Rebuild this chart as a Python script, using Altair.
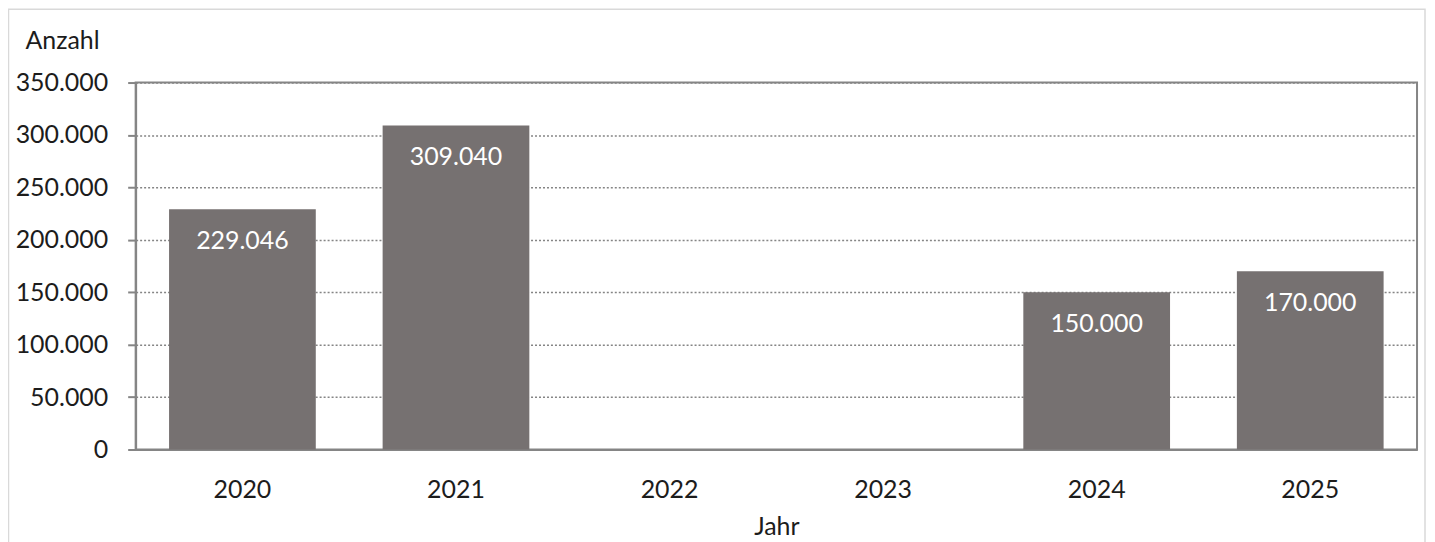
import altair as alt
import pandas as pd

years = ["2020", "2021", "2022", "2023", "2024", "2025"]
counts = [229046, 309040, None, None, 150000, 170000]
y_ticks = [0, 50000, 100000, 150000, 200000, 250000, 300000, 350000]

df = pd.DataFrame({"Jahr": years, "Anzahl": counts})

FONT = "Lato"
TEXT = "#1c1c1c"
GRAY = "#858585"
BAR = "#767171"

W, H = 1285, 368

x_enc = alt.X(
    "Jahr:N",
    sort=years,
    scale=alt.Scale(domain=years, paddingInner=0.313, paddingOuter=0.1565),
    axis=alt.Axis(
        title="Jahr",
        labelAngle=0,
        ticks=False,
        tickSize=0,
        labelPadding=48,
        labelBaseline="alphabetic",
        labelFont=FONT,
        labelFontSize=25,
        labelColor=TEXT,
        titleFont=FONT,
        titleFontSize=25,
        titleFontWeight="normal",
        titleColor=TEXT,
        titleBaseline="alphabetic",
        titleY=85,
        domainColor=GRAY,
        domainWidth=2,
        grid=False,
    ),
)

y_enc = alt.Y(
    "Anzahl:Q",
    scale=alt.Scale(domain=[0, 350000], nice=False),
    axis=alt.Axis(
        title="Anzahl",
        values=y_ticks,
        labelExpr="replace(format(datum.value, ','), ',', '.')",
        labelFont=FONT,
        labelFontSize=25,
        labelColor=TEXT,
        labelPadding=20,
        tickSize=8,
        tickColor=GRAY,
        tickWidth=2,
        domainColor=GRAY,
        domainWidth=2,
        grid=True,
        gridColor=GRAY,
        gridDash=[2, 2],
        gridWidth=1.5,
        titleAngle=0,
        titleAlign="left",
        titleBaseline="alphabetic",
        titleX=-111,
        titleY=-34,
        titleFont=FONT,
        titleFontSize=25,
        titleFontWeight="normal",
        titleColor=TEXT,
    ),
)

bars = alt.Chart(df).mark_bar(color=BAR).encode(x=x_enc, y=y_enc)

labels = (
    alt.Chart(df)
    .transform_filter("isValid(datum.Anzahl)")
    .transform_calculate(label="replace(format(datum.Anzahl, ','), ',', '.')")
    .mark_text(
        color="white",
        font=FONT,
        fontSize=25,
        baseline="alphabetic",
        align="center",
        dy=40,
    )
    .encode(x=alt.X("Jahr:N", sort=years), y="Anzahl:Q", text="label:N")
)

frame = (
    alt.Chart(pd.DataFrame({"k": [0]}))
    .mark_rect(fill=None, stroke="#d9d9d9", strokeWidth=1.5)
    .encode(
        x=alt.value(-127.5),
        x2=alt.value(W + 8),
        y=alt.value(-73.5),
        y2=alt.value(H + 200),
    )
)

chart = (
    alt.layer(frame, bars, labels)
    .properties(
        width=W,
        height=H,
        autosize=alt.AutoSizeParams(type="none"),
        padding={"left": 128, "top": 74, "right": 10, "bottom": 92},
        background="white",
    )
    .configure_view(stroke=GRAY, strokeWidth=2)
)

chart.save("out.html", embed_options={"renderer": "svg", "actions": False})
